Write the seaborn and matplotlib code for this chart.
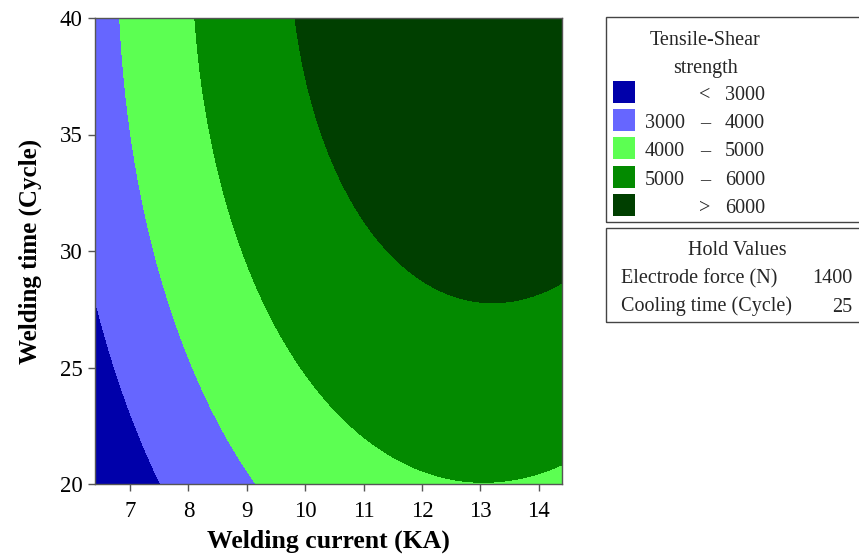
import numpy as np
import seaborn as sns
import matplotlib.pyplot as plt
from matplotlib.patches import Rectangle

# contour crossings: welding current (KA), welding time (Cycle), strength level
pt_current = [7.53, 6.71, 6.40,
              9.12, 8.11, 7.40, 7.04, 6.83,
              13.0, 14.39, 11.29, 10.0, 9.57, 8.89, 8.40, 8.11,
              9.85, 10.17, 10.34, 11.29, 13.0, 14.39]
pt_time = [20.0, 25.0, 27.95,
           20.0, 25.0, 30.06, 34.5, 40.0,
           20.05, 20.8, 21.46, 25.0, 26.48, 30.06, 34.5, 40.0,
           40.0, 35.6, 34.5, 30.2, 27.81, 28.69]
pt_level = [3000] * 3 + [4000] * 5 + [5000] * 8 + [6000] * 6

levels = [3000, 4000, 5000, 6000]
legend_lo = ["", "3000", "4000", "5000", ""]
legend_sym = ["<", "–", "–", "–", ">"]
legend_hi = ["3000", "4000", "5000", "6000", "6000"]
colors = ["#0000AA", "#6666FF", "#5CFF52", "#038A00", "#003F00"]
hold_names = ["Electrode force (N)", "Cooling time (Cycle)"]
hold_values = ["1400", "25"]

sns.set_theme(style="white")
plt.rcParams['font.family'] = ['Liberation Serif', 'DejaVu Serif']

# second order response surface through the read points
px = np.array(pt_current)
py = np.array(pt_time)
A = np.column_stack([np.ones_like(px), px, py, px ** 2, py ** 2, px * py])
coef, *_ = np.linalg.lstsq(A, np.array(pt_level, float), rcond=None)

gx, gy = np.meshgrid(np.linspace(6.4, 14.4, 400), np.linspace(20, 40, 400))
gz = coef[0] + coef[1] * gx + coef[2] * gy + coef[3] * gx ** 2 + coef[4] * gy ** 2 + coef[5] * gx * gy

pal = sns.color_palette(colors)
fig = plt.figure(figsize=(8.59, 5.59), dpi=100)
ax = fig.add_axes([95 / 859, 1 - 484 / 559, (562 - 95) / 859, (484 - 18) / 559])
ax.contourf(gx, gy, gz, levels=[-1e9] + levels + [1e9], colors=pal)
ax.set_xlim(6.4, 14.4)
ax.set_ylim(20, 40)
ax.set_xticks(range(7, 15))
ax.set_yticks(range(20, 41, 5))
ax.tick_params(direction='out', length=5, width=1, color='#555555', labelsize=16.5,
               labelcolor='black', bottom=True, left=True)
ax.tick_params(axis='x', pad=7)
ax.tick_params(axis='y', pad=4)
for s in ax.spines.values():
    s.set_color('#555555')
    s.set_linewidth(1)
ax.set_xlabel("Welding current (KA)", fontsize=18.5, fontweight='bold', color='black', labelpad=6)
ax.set_ylabel("Welding time (Cycle)", fontsize=18, fontweight='bold', color='black', labelpad=13)

def fx(p):
    return p / 859

def fy(p):
    return 1 - p / 559

# legend boxes
fig.patches.append(Rectangle((fx(606), fy(222)), 0.5, (222 - 17) / 559, transform=fig.transFigure,
                             fill=False, edgecolor='#444444', lw=1))
fig.patches.append(Rectangle((fx(606), fy(322)), 0.5, (322 - 228) / 559, transform=fig.transFigure,
                             fill=False, edgecolor='#444444', lw=1))
fs = 14.5
fig.text(fx(705), fy(45), "Tensile-Shear", ha='center', va='baseline', fontsize=fs)
fig.text(fx(705), fy(73), "strength", ha='center', va='baseline', fontsize=fs)
row_base = [100, 128, 156.5, 185, 213]
for lo, sym, hi, c, yy in zip(legend_lo, legend_sym, legend_hi, pal, row_base):
    fig.patches.append(Rectangle((fx(613), fy(yy + 3)), 22 / 859, 22 / 559, transform=fig.transFigure,
                                 facecolor=c, edgecolor='none'))
    fig.text(fx(645), fy(yy), lo, ha='left', va='baseline', fontsize=fs)
    fig.text(fx(705), fy(yy), sym, ha='center', va='baseline', fontsize=fs)
    fig.text(fx(765), fy(yy), hi, ha='right', va='baseline', fontsize=fs)

fig.text(fx(737), fy(255), "Hold Values", ha='center', va='baseline', fontsize=fs)
for name, val, yy in zip(hold_names, hold_values, [283, 311.5]):
    fig.text(fx(621), fy(yy), name, ha='left', va='baseline', fontsize=fs)
    fig.text(fx(852), fy(yy), val, ha='right', va='baseline', fontsize=fs)

fig.savefig("out.png", dpi=100)
